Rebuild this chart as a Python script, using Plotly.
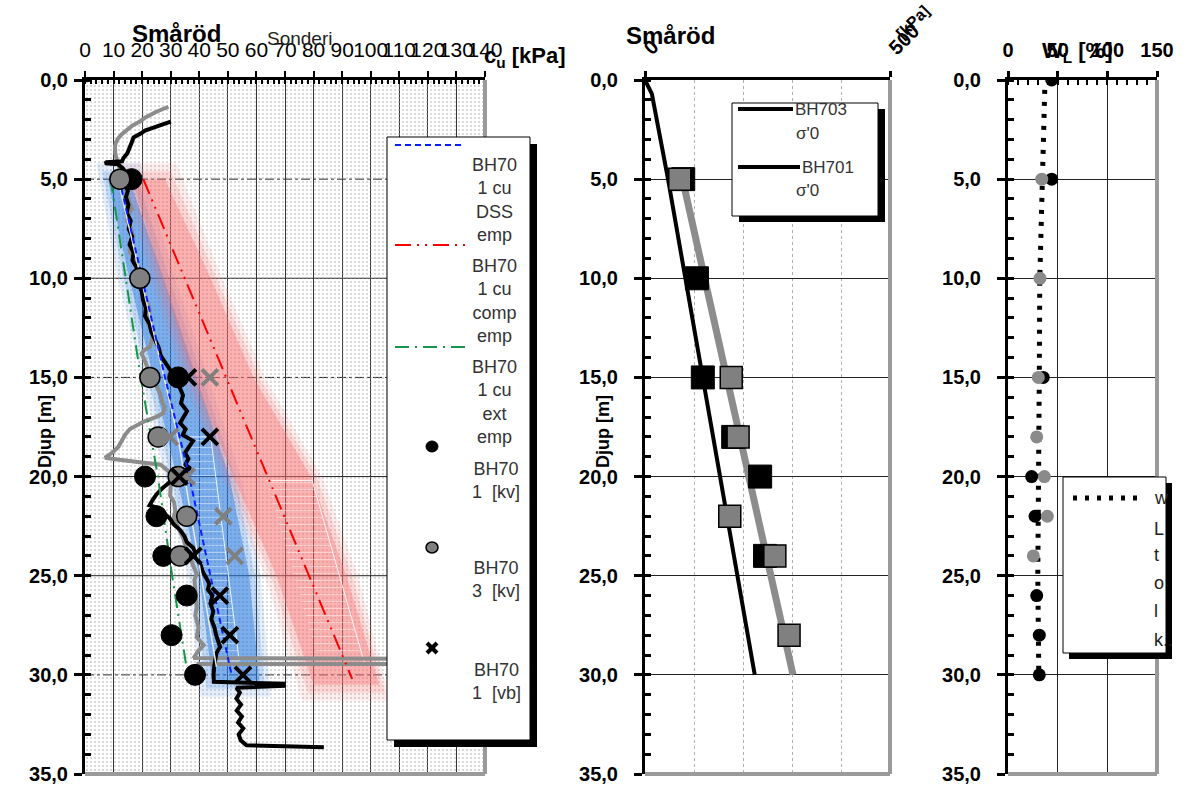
import plotly.graph_objects as go

W, H = 1192, 790
FONT = "Liberation Sans, Arial, sans-serif"


def px(x):
    return x / W


def py(y):
    return 1 - y / H


# ---------------- LEFT PANEL DATA (cu [kPa] vs depth [m]) ----------------
cu_range = [0, 140]
depth_range = [35, 0]

cpt701_depth = [2.1, 2.3, 2.55, 2.7, 2.9, 3.2, 3.4, 3.7, 3.95, 4.1, 4.15, 4.2, 4.25, 4.45, 4.7, 5.0,
                5.3, 5.6, 5.9, 6.3, 6.7, 7.1, 7.5, 7.9, 8.3, 8.7, 9.1, 9.5, 9.9, 10.3, 10.7, 11.1,
                11.5, 11.9, 12.3, 12.7, 13.1, 13.5, 13.9, 14.3, 14.7, 15.1, 15.5, 15.9, 16.3, 16.7,
                17.0, 17.3, 17.6, 17.9, 18.2, 18.5, 18.8, 19.1, 19.4, 19.6, 19.8, 20.0, 20.3, 20.6,
                20.9, 21.2, 21.45, 21.6, 21.8, 22.1, 22.4, 22.7, 23.0, 23.3, 23.6, 23.9, 24.2, 24.5,
                24.8, 25.1, 25.4, 25.7, 26.0, 26.4, 26.8, 27.2, 27.6, 28.0, 28.3, 28.6, 28.9, 29.2,
                29.6, 30.0, 30.35, 30.45, 30.55, 30.65, 30.9, 31.2, 31.5, 31.8, 32.1, 32.4, 32.7,
                33.0, 33.3, 33.55, 33.65]
cpt701_cu = [30, 26, 21, 19.5, 17, 16.2, 15.5, 14.8, 13.4, 13.0, 7.5, 7, 11.5, 13.2, 14.5, 15.2,
             14.2, 15.0, 14.3, 15.2, 14.6, 16.0, 15.3, 16.5, 15.6, 17.0, 16.6, 18.2, 17.9, 19.0, 19.9, 20.3,
             21.3, 21.0, 22.6, 23.2, 24.4, 25.8, 26.5, 28.3, 30.1, 32.0, 33.1, 34.3, 33.6, 35.7,
             34.5, 33.3, 35.2, 34.2, 37.8, 36.4, 35.0, 36.2, 35.1, 36.9, 33.0, 30.8, 29.5, 27.0,
             25.0, 23.6, 22.6, 26.0, 27.2, 29.6, 31.0, 33.3, 34.8, 35.6, 37.9, 38.8, 39.4, 40.6,
             41.2, 42.4, 43.5, 43.0, 44.6, 43.9, 44.9, 44.2, 45.3, 45.9, 46.5, 47.3, 46.0, 45.6,
             45.2, 45.0, 45.1, 69.5, 69.5, 53.0, 54.2, 53.0, 54.6, 53.1, 54.9, 53.6, 55.4,
             53.8, 54.5, 56.5, 83.6]

cpt703_depth = [1.35, 1.6, 1.9, 2.1, 2.3, 2.5, 2.75, 2.95, 3.15, 3.35, 3.7, 4.0, 4.3, 4.5, 4.8, 5.1,
                5.4, 5.7, 6.1, 6.5, 6.8, 7.05, 7.4, 7.9, 8.3, 8.7, 9.0, 9.2, 9.6, 10.0, 10.4, 10.75,
                11.2, 11.6, 12.1, 12.4, 12.75, 13.1, 13.45, 13.65, 13.8, 14.1, 14.45, 14.8, 15.2,
                15.5, 15.8, 16.2, 16.5, 16.8, 17.0, 17.2, 17.4, 17.6, 17.9, 18.2, 18.5, 18.8, 19.05,
                19.15, 19.25, 19.4, 19.7, 20.1, 20.5, 20.95, 21.3, 21.7, 22.1, 22.4, 22.8, 23.1,
                23.5, 24.0, 24.4, 24.9, 25.2, 25.5, 26.0, 26.6, 27.0, 27.6, 28.1, 28.5, 28.8, 29.0,
                29.15, 29.2, 29.45, 29.45]
cpt703_cu = [29.2, 25, 21, 19.2, 16.5, 14.6, 12.8, 11.6, 10.8, 10.5, 10.6, 11.1, 11.9, 12.2, 12.0, 12.9,
             13.6, 14.6, 15.4, 16.4, 15.2, 14.6, 15.9, 16.9, 16.1, 15.7, 17.3, 18.1, 18.5, 19.0, 19.5, 20.4,
             21.6, 22.8, 21.6, 22.4, 23.9, 23.5, 22.8, 20.5, 19.8, 20.8, 21.6, 22.6, 24.2,
             25.3, 26.3, 26.9, 27.8, 27.4, 24.8, 21.0, 18.0, 15.7, 14.0, 12.8, 11.7, 9.5, 7.0,
             12.0, 19.0, 26.5, 29.0, 30.9, 30.0, 29.8, 31.2, 31.6, 31.0, 32.1, 33.5, 34.4,
             35.2, 36.8, 37.6, 39.1, 38.3, 38.5, 38.9, 39.1, 38.6, 39.7, 39.1, 41.5, 39.6, 38.5,
             38.0, 140, 140, 39.0]

kv701_depth = [5, 15, 20, 22, 24, 26, 28, 30]
kv701_cu = [16.3, 32.6, 21.0, 25.0, 27.4, 35.6, 30.3, 38.5]
kv703_depth = [5, 10, 15, 18, 20, 22, 24]
kv703_cu = [12.2, 19.2, 22.7, 25.6, 32.6, 35.6, 33.2]
vb701_depth = [15, 18, 20, 24, 26, 28, 30]
vb701_cu = [36.0, 43.7, 33.0, 37.9, 47.2, 50.7, 55.3]
vb703_depth = [15, 18, 20, 22, 24]
vb703_cu = [43.7, 29.7, 35.6, 48.4, 52.4]

dss_depth = [5, 15, 20, 25, 30]
dss_cu = [12.0, 28.0, 36.5, 44.0, 51.3]
comp_depth = [5, 30.2]
comp_cu = [20.4, 93.5]
ext_depth = [5, 15, 20, 25, 29.6]
ext_cu = [9.0, 19.5, 25.5, 30.5, 35.5]
ref_depth = [5, 18, 29.6]
ref_cu = [11.5, 32.5, 46.0]

blue_band_depth = [5, 10, 15, 20, 25, 30.3]
blue_band_lo = [8.0, 15.5, 24.0, 32.0, 40.0, 44.5]
blue_band_hi = [15.5, 27.5, 39.0, 50.5, 57.5, 61.0]
red_band_depth = [5, 10, 15, 20, 25, 30.5]
red_band_lo = [16.5, 27.0, 38.0, 52.0, 67.0, 80.0]
red_band_hi = [28.0, 44.0, 59.0, 79.0, 91.5, 103.0]

blue_hatch_depth = [18.0, 18.0, 29.3, 29.3]
blue_hatch_cu = [36.0, 44.0, 54.0, 45.0]
red_hatch_depth = [20.2, 20.2, 29.5, 29.5]
red_hatch_cu = [63.5, 79.5, 98.0, 82.2]

grid_h_depths = [5, 10, 15, 20, 25, 30]
grid_h_dash = ["dashdot", "solid", "dashdot", "solid", "solid", "dashdot"]

# ---------------- MIDDLE PANEL DATA (sigma'0 [kPa]) ----------------
sig_range = [0, 500]
sig701_depth = [0, 0.7, 5, 30]
sig701 = [0, 14, 47, 224]
sig703_depth = [4.6, 30]
sig703 = [73, 302]
sq701_depth = [5, 10, 15, 18, 20, 24]
sq701 = [78, 106, 118, 180, 235, 245]
sq703_depth = [5, 15, 18, 22, 24, 28]
sq703 = [71, 176, 190, 173, 265, 294]

# ---------------- RIGHT PANEL DATA (w, wL [%]) ----------------
w_range = [0, 150]
wline_depth = [0.5, 5, 10, 15, 20, 25, 30]
wline = [37, 35, 32, 31.5, 31, 30, 31]
w701_depth = [0, 5, 15, 20, 22, 26, 28, 30]
w701 = [44, 44, 35.5, 23.8, 27.2, 28.9, 31.5, 31.5]
w703_depth = [5, 10, 15, 18, 20, 22, 24]
w703 = [34, 32.2, 30.5, 28.9, 36.6, 39.6, 25.5]

GRAY = "#808080"

fig = go.Figure()


def band_polygon(depths, lo, hi, pad_x, pad_y):
    d = list(depths)
    d[0] -= pad_y
    d[-1] += pad_y
    xs = [v - pad_x for v in lo] + [v + pad_x for v in hi[::-1]]
    ys = d + d[::-1]
    return xs, ys


# stipple background of the left panel
fig.add_trace(go.Scatter(
    x=[cu_range[0], cu_range[1], cu_range[1], cu_range[0]],
    y=[depth_range[1], depth_range[1], depth_range[0], depth_range[0]],
    fill="toself", mode="none", fillcolor="rgba(0,0,0,0)",
    fillpattern=dict(shape=".", fgcolor="#a0a0a0", size=4, solidity=0.22),
    hoverinfo="skip", showlegend=False, xaxis="x", yaxis="y"))

# soft bands
for (pdx, pdy, a) in [(4, 0.8, 0.12), (2, 0.4, 0.18), (0, 0, 0.45)]:
    bx, by = band_polygon(blue_band_depth, blue_band_lo, blue_band_hi, pdx, pdy)
    fig.add_trace(go.Scatter(x=bx, y=by, fill="toself", mode="none",
                             fillcolor=f"rgba(40,120,225,{a})", hoverinfo="skip",
                             showlegend=False, xaxis="x", yaxis="y"))
for (pdx, pdy, a) in [(4, 0.8, 0.12), (2, 0.4, 0.18), (0, 0, 0.35)]:
    bx, by = band_polygon(red_band_depth, red_band_lo, red_band_hi, pdx, pdy)
    fig.add_trace(go.Scatter(x=bx, y=by, fill="toself", mode="none",
                             fillcolor=f"rgba(250,110,110,{a})", hoverinfo="skip",
                             showlegend=False, xaxis="x", yaxis="y"))

for hx, hy in [(blue_hatch_cu, blue_hatch_depth), (red_hatch_cu, red_hatch_depth)]:
    fig.add_trace(go.Scatter(x=hx, y=hy, fill="toself", mode="lines",
                             line=dict(color="rgba(255,255,255,0.85)", width=1),
                             fillcolor="rgba(0,0,0,0)",
                             fillpattern=dict(shape="-", fgcolor="rgba(255,255,255,0.8)", size=7, solidity=0.15),
                             hoverinfo="skip", showlegend=False, xaxis="x", yaxis="y"))

# soundings
fig.add_trace(go.Scatter(x=cpt703_cu, y=cpt703_depth, mode="lines",
                         line=dict(color="#8c8c8c", width=4), hoverinfo="skip",
                         showlegend=False, xaxis="x", yaxis="y"))
fig.add_trace(go.Scatter(x=cpt701_cu, y=cpt701_depth, mode="lines",
                         line=dict(color="black", width=4), hoverinfo="skip",
                         showlegend=False, xaxis="x", yaxis="y"))

# empirical lines
fig.add_trace(go.Scatter(x=ref_cu, y=ref_depth, mode="lines",
                         line=dict(color="#e8e8e8", width=1.5), hoverinfo="skip",
                         showlegend=False, xaxis="x", yaxis="y"))
fig.add_trace(go.Scatter(x=dss_cu, y=dss_depth, mode="lines",
                         line=dict(color="#0a1eff", width=2, dash="6px,4px"), hoverinfo="skip",
                         showlegend=False, xaxis="x", yaxis="y"))
fig.add_trace(go.Scatter(x=comp_cu, y=comp_depth, mode="lines",
                         line=dict(color="#ff0000", width=2, dash="16px,6px,2px,6px,2px,6px"),
                         hoverinfo="skip", showlegend=False, xaxis="x", yaxis="y"))
fig.add_trace(go.Scatter(x=ext_cu, y=ext_depth, mode="lines",
                         line=dict(color="#16964a", width=2, dash="14px,6px,2px,6px"),
                         hoverinfo="skip", showlegend=False, xaxis="x", yaxis="y"))

# markers
fig.add_trace(go.Scatter(x=kv701_cu, y=kv701_depth, mode="markers",
                         marker=dict(symbol="circle", size=21, color="black",
                                     line=dict(color="black", width=1)),
                         hoverinfo="skip", showlegend=False, xaxis="x", yaxis="y"))
fig.add_trace(go.Scatter(x=kv703_cu, y=kv703_depth, mode="markers",
                         marker=dict(symbol="circle", size=20, color=GRAY,
                                     line=dict(color="black", width=1.5)),
                         hoverinfo="skip", showlegend=False, xaxis="x", yaxis="y"))
fig.add_trace(go.Scatter(x=vb703_cu, y=vb703_depth, mode="markers",
                         marker=dict(symbol="x-thin", size=16, color=GRAY,
                                     line=dict(color=GRAY, width=4)),
                         hoverinfo="skip", showlegend=False, xaxis="x", yaxis="y"))
fig.add_trace(go.Scatter(x=vb701_cu, y=vb701_depth, mode="markers",
                         marker=dict(symbol="x-thin", size=16, color="black",
                                     line=dict(color="black", width=4)),
                         hoverinfo="skip", showlegend=False, xaxis="x", yaxis="y"))

# ---------------- middle panel traces ----------------
fig.add_trace(go.Scatter(x=sig703, y=sig703_depth, mode="lines",
                         line=dict(color="#8c8c8c", width=7), hoverinfo="skip",
                         showlegend=False, xaxis="x2", yaxis="y2"))
fig.add_trace(go.Scatter(x=sig701, y=sig701_depth, mode="lines",
                         line=dict(color="black", width=4), hoverinfo="skip",
                         showlegend=False, xaxis="x2", yaxis="y2"))
fig.add_trace(go.Scatter(x=sq701, y=sq701_depth, mode="markers",
                         marker=dict(symbol="square", size=23, color="black",
                                     line=dict(color="black", width=1)),
                         hoverinfo="skip", showlegend=False, xaxis="x2", yaxis="y2"))
fig.add_trace(go.Scatter(x=sq703, y=sq703_depth, mode="markers",
                         marker=dict(symbol="square", size=22, color=GRAY,
                                     line=dict(color="black", width=1.5)),
                         hoverinfo="skip", showlegend=False, xaxis="x2", yaxis="y2"))

# ---------------- right panel traces ----------------
fig.add_trace(go.Scatter(x=wline, y=wline_depth, mode="lines",
                         line=dict(color="black", width=5, dash="4px,8px"), hoverinfo="skip",
                         showlegend=False, xaxis="x3", yaxis="y3"))
fig.add_trace(go.Scatter(x=w701, y=w701_depth, mode="markers",
                         marker=dict(symbol="circle", size=13, color="black"),
                         hoverinfo="skip", showlegend=False, xaxis="x3", yaxis="y3"))
fig.add_trace(go.Scatter(x=w703, y=w703_depth, mode="markers",
                         marker=dict(symbol="circle", size=13, color="#8a8a8a"),
                         hoverinfo="skip", showlegend=False, xaxis="x3", yaxis="y3"))

# ---------------- axes ----------------
ydom = [py(774), py(80)]
tickfont_b = dict(family=FONT, size=20, color="black", weight="bold")


def yaxis_cfg(anchor, standoff, grid):
    return dict(domain=ydom, range=depth_range, anchor=anchor, tick0=0, dtick=5,
                tickformat=".1f", tickfont=tickfont_b, ticks="outside", ticklen=8,
                tickwidth=3, tickcolor="black", showline=True, linewidth=3,
                linecolor="black", showgrid=grid, gridcolor="#222", gridwidth=1,
                zeroline=False, ticklabelstandoff=standoff, fixedrange=True,
                automargin=False,
                minor=dict(dtick=1, tick0=0, ticks="inside", ticklen=6, tickwidth=3,
                           tickcolor="black", showgrid=False))


fig.update_layout(
    width=W, height=H, margin=dict(l=0, r=0, t=0, b=0, autoexpand=False),
    paper_bgcolor="white", plot_bgcolor="white", separators=",.",
    showlegend=False, font=dict(family=FONT, color="black"),
    xaxis=dict(domain=[px(85), px(485)], range=cu_range, side="top", anchor="y",
               tick0=0, dtick=10, tickangle=0, ticks="outside", ticklen=6, tickwidth=2,
               tickcolor="black",
               tickfont=dict(family=FONT, size=21, color="black"),
               showline=True, linewidth=3, linecolor="black",
               showgrid=True, gridcolor="#333", gridwidth=1, zeroline=False,
               ticklabelstandoff=6, fixedrange=True, automargin=False,
               minor=dict(dtick=2, ticks="inside", ticklen=4, tickwidth=2, tickcolor="black",
                          showgrid=False)),
    yaxis=yaxis_cfg("x", 2, False),
    xaxis2=dict(domain=[px(645), px(890)], range=sig_range, side="top", anchor="y2",
                tick0=0, dtick=500, tickangle=-45, tickfont=tickfont_b,
                ticks="outside", ticklen=6, tickwidth=3, tickcolor="black",
                showline=True, linewidth=3, linecolor="black", showgrid=False,
                zeroline=False, ticklabelstandoff=4, fixedrange=True, automargin=False,
                minor=dict(dtick=100, ticks="", showgrid=True, griddash="dot",
                           gridcolor="#b0b0b0", gridwidth=1)),
    yaxis2=yaxis_cfg("x2", 12, True),
    xaxis3=dict(domain=[px(1008), px(1157)], range=w_range, side="top", anchor="y3",
                tick0=0, dtick=50, tickangle=0, tickfont=tickfont_b,
                ticks="outside", ticklen=6, tickwidth=3, tickcolor="black",
                showline=True, linewidth=3, linecolor="black",
                showgrid=True, gridcolor="#222", gridwidth=1, zeroline=False,
                ticklabelstandoff=6, fixedrange=True, automargin=False,
                minor=dict(dtick=10, ticks="inside", ticklen=5, tickwidth=2, tickcolor="black",
                           showgrid=False)),
    yaxis3=yaxis_cfg("x3", 12, True),
)

shapes = []
# left panel horizontal grid lines
for d, dash in zip(grid_h_depths, grid_h_dash):
    shapes.append(dict(type="line", xref="x domain", yref="y", x0=0, x1=1, y0=d, y1=d,
                       line=dict(color="#222", width=1, dash=dash), layer="below"))
# gray right/bottom borders
for xr, yr in [("x", "y"), ("x2", "y2"), ("x3", "y3")]:
    shapes.append(dict(type="line", xref=f"{xr} domain", yref=f"{yr} domain",
                       x0=1, x1=1, y0=0, y1=1, line=dict(color="#9a9a9a", width=4), layer="above"))
    shapes.append(dict(type="line", xref=f"{xr} domain", yref=f"{yr} domain",
                       x0=0, x1=1, y0=0, y1=0, line=dict(color="#9a9a9a", width=4), layer="above"))


def rect(x0, y0, x1, y1, fill, lw=0, lc="black"):
    return dict(type="rect", xref="paper", yref="paper", x0=px(x0), x1=px(x1),
                y0=py(y1), y1=py(y0), fillcolor=fill,
                line=dict(color=lc, width=lw), layer="above")


def pline(x0, y0, x1, y1, color, width, dash="solid"):
    return dict(type="line", xref="paper", yref="paper", x0=px(x0), x1=px(x1),
                y0=py(y0), y1=py(y1), line=dict(color=color, width=width, dash=dash),
                layer="above")


# legend boxes
shapes += [rect(394, 144, 537, 747, "black"), rect(387, 137, 530, 740, "white", 1)]
shapes += [rect(739, 109, 885, 222, "black"), rect(732, 103, 878, 216, "white", 1)]
shapes += [rect(1069, 483, 1172, 659, "black"), rect(1063, 477, 1166, 653, "white", 1)]
# left legend samples
shapes += [pline(395, 145, 465, 145, "#0a1eff", 2, "6px,4px"),
           pline(395, 245, 465, 245, "#ff0000", 2, "16px,6px,2px,6px,2px,6px"),
           pline(395, 347, 465, 347, "#16964a", 2, "14px,6px,2px,6px")]
shapes.append(dict(type="circle", xref="paper", yref="paper", x0=px(426), x1=px(438),
                   y0=py(452), y1=py(441), fillcolor="black", line=dict(color="black", width=1),
                   layer="above"))
shapes.append(dict(type="circle", xref="paper", yref="paper", x0=px(426), x1=px(438),
                   y0=py(553), y1=py(542), fillcolor=GRAY, line=dict(color="black", width=1.5),
                   layer="above"))
shapes += [pline(427, 643, 437, 653, "black", 4), pline(427, 653, 437, 643, "black", 4)]
# middle legend samples
shapes += [pline(738, 109, 793, 109, "black", 4), pline(738, 167, 800, 167, "black", 4)]
# right legend sample
shapes += [pline(1073, 498, 1145, 498, "black", 5, "4px,8px")]

fig.update_layout(shapes=shapes)

ann = []


def text(x, y, s, size=18, bold=False, xanchor="left", color="black", angle=0):
    ann.append(dict(xref="paper", yref="paper", x=px(x), y=py(y), text=s, showarrow=False,
                    xanchor=xanchor, yanchor="middle", textangle=angle,
                    font=dict(family=FONT, size=size, color=color,
                              weight="bold" if bold else "normal")))


# titles
text(176, 33, "Småröd", 24, True, "center")
text(300, 38, "Sonderi", 19, False, "center", "#222")
text(482, 57, "c<sub>u</sub> [kPa]", 22, True)
text(45, 432, "Djup [m]", 18, True, "center", angle=-90)
text(670, 35, "Småröd", 24, True, "center")
text(603, 432, "Djup [m]", 18, True, "center", angle=-90)
text(912, 22, "[kPa]", 16, True, "center", angle=-45)
text(1040, 52, "W<sub>L</sub> [%]", 22, True)

# left legend text
LG = "#333333"
text(470, 200.3, "BH70<br>1 cu<br>DSS<br>emp", 18, False, "left", LG)
text(470, 300.8, "BH70<br>1 cu<br>comp<br>emp", 18, False, "left", LG)
text(470, 401.5, "BH70<br>1 cu<br>ext<br>emp", 18, False, "left", LG)
text(470, 480, "BH70<br>1\u00a0 [kv]", 18, False, "left", LG)
text(470, 579.6, "BH70<br>3\u00a0 [kv]", 18, False, "left", LG)
text(470, 681, "BH70<br>1\u00a0 [vb]", 18, False, "left", LG)
# middle legend text
text(793, 109, "BH703", 17, False, "left", LG)
text(794, 133, "σ'0", 17, False, "left", LG)
text(800, 167, "BH701", 17, False, "left", LG)
text(794, 191, "σ'0", 17, False, "left", LG)
# right legend text
for s, yy in zip(["w", "L", "t", "o", "l", "k.."], [498, 529, 555, 583, 611, 640]):
    text(1152, yy, s, 18, False, "left", "#222")

fig.update_layout(annotations=ann)

fig.write_html("out.html")
